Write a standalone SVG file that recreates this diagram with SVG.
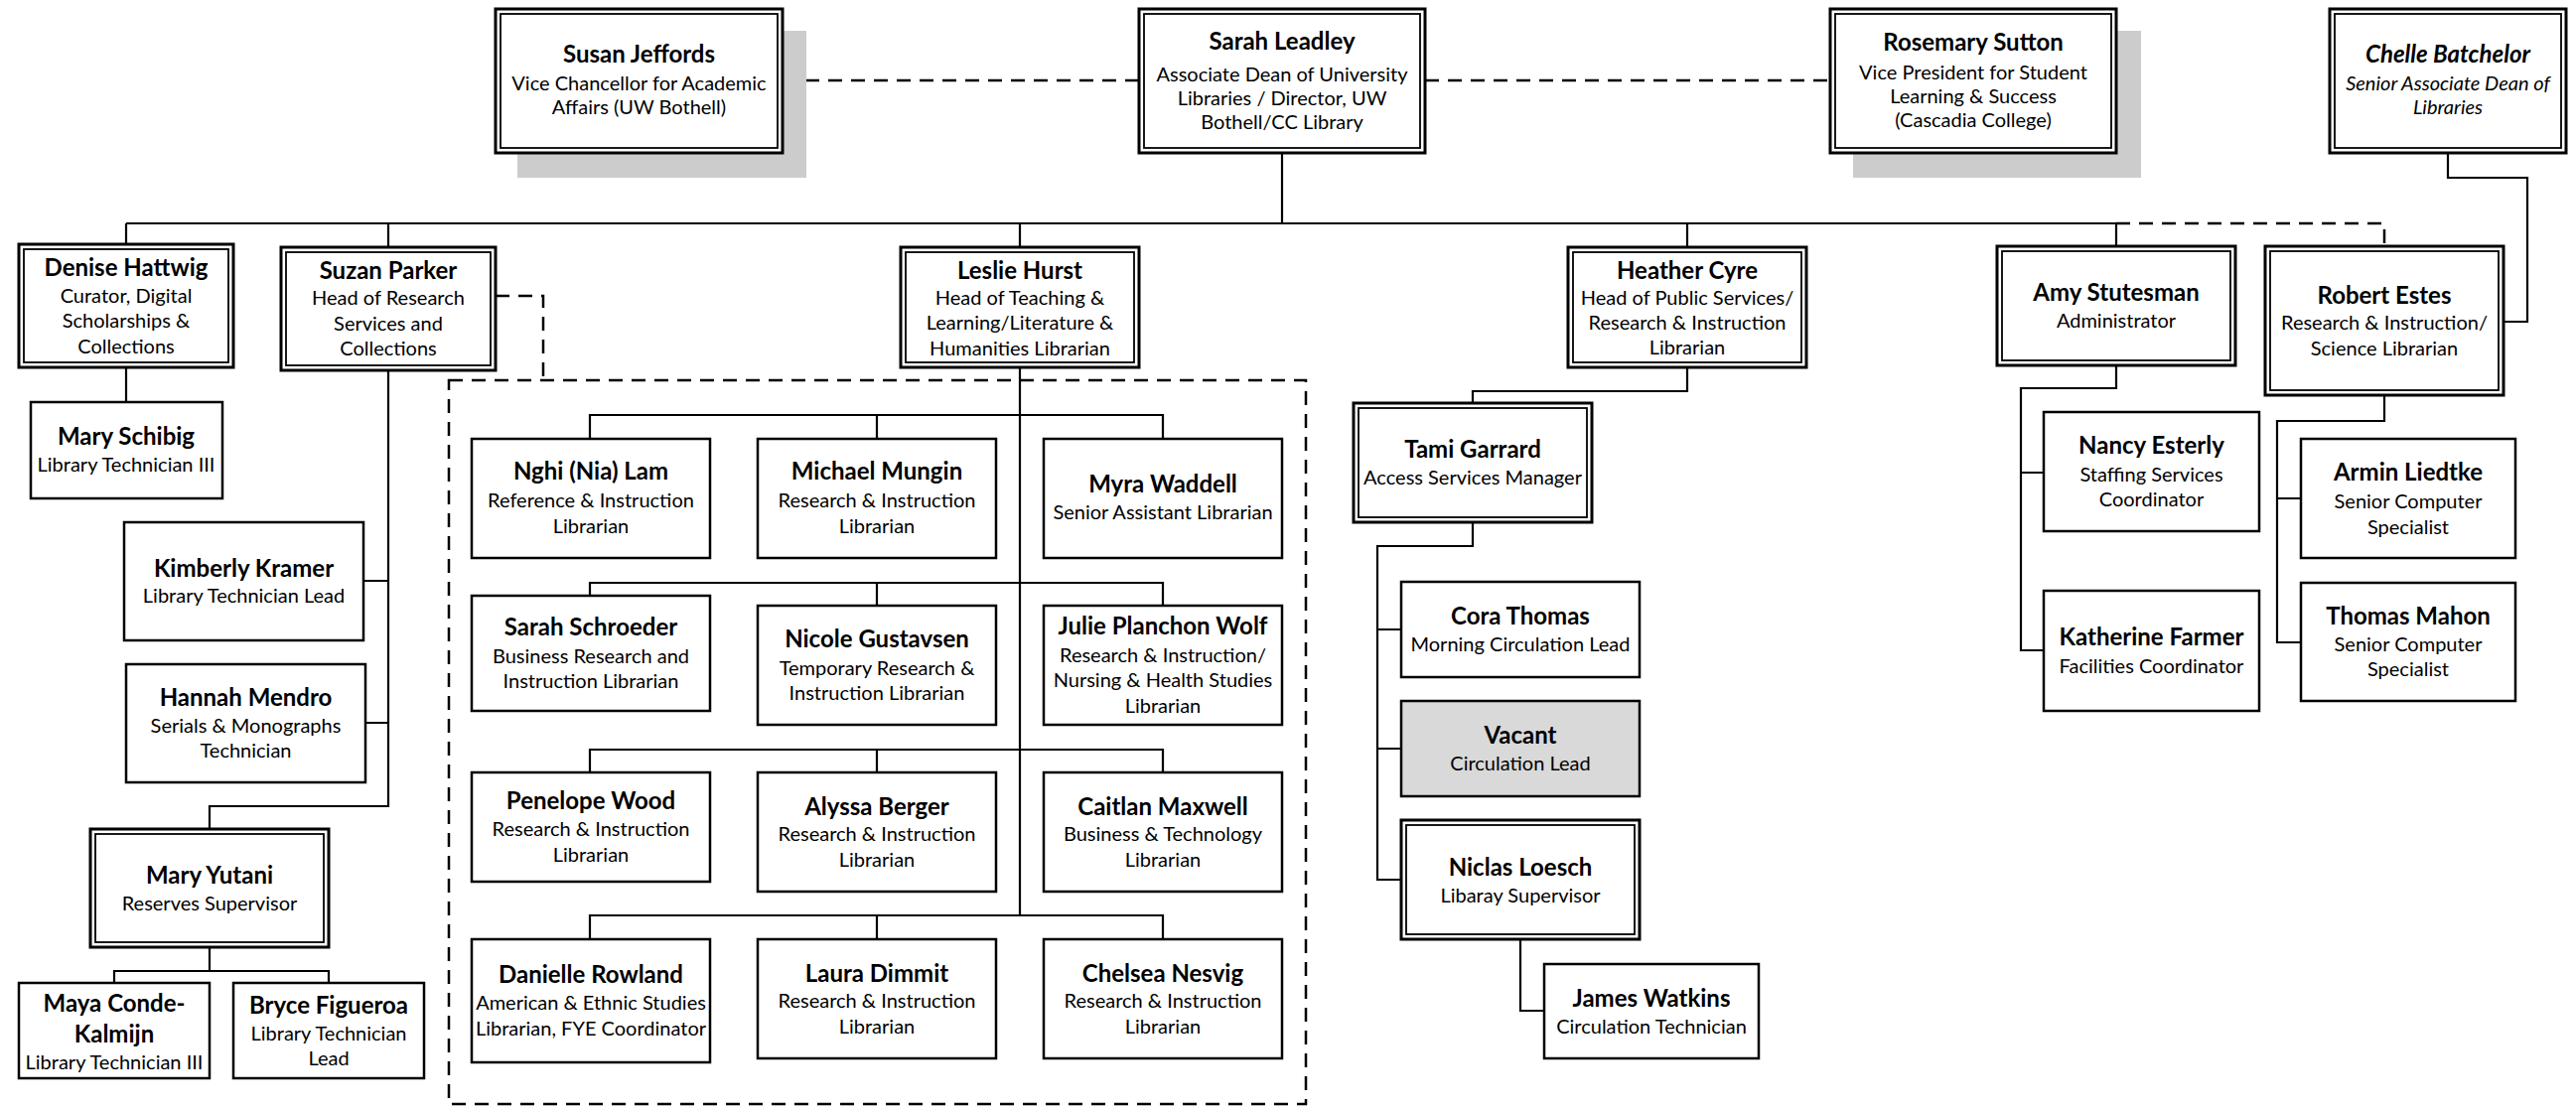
<svg xmlns="http://www.w3.org/2000/svg" width="2594" height="1119" viewBox="0 0 2594 1119">
<style>
.bg{fill:#fff}
.box{fill:#fff;stroke:#000;stroke-width:2.5}
.vac{fill:#d9d9d9;stroke:#000;stroke-width:2.5}
.dbo{fill:#fff;stroke:#000;stroke-width:3}
.dbi{fill:none;stroke:#000;stroke-width:1.8}
.shd{fill:#cccccc}
.ln{fill:none;stroke:#000;stroke-width:2.2}
.dash{fill:none;stroke:#000;stroke-width:2.5;stroke-dasharray:14 9}
text{font-family:Lato,"Liberation Sans",sans-serif;text-anchor:middle;fill:#000}
.nm{font-size:24px;font-weight:bold}
.sb{font-size:20px}
.it{font-style:italic}
</style>
<rect class="bg" x="0" y="0" width="2594" height="1119"/>

<g id="connectors">
<path class="ln" d="M1291 154V225M127 225H2131M127 225V246M391 225V249M1027 225V249M1699 225V249M2131 225V248"/>
<path class="dash" d="M788 81H1147M1435 81H1843M2131 225H2401V249M499 298H547V383"/>
<rect class="dash" x="452" y="383" width="863" height="729"/>
<path class="ln" d="M2465 154V179H2545V324H2521"/>
<path class="ln" d="M127 370V405"/>
<path class="ln" d="M391 373V812H211V835M366 585H391M368 728H391"/>
<path class="ln" d="M211 954V978M115 990V978H331V990"/>
<path class="ln" d="M1027 370V922M594 442V418H1171V442M883 418V442M594 599V587H1171V610M883 587V610M594 778V755H1171V778M883 755V778M594 946V922H1171V946M883 922V946"/>
<path class="ln" d="M1699 370V394H1483V406M1483 526V550H1387V886H1411M1387 634H1411M1387 754H1411M1531 946V1018H1555"/>
<path class="ln" d="M2131 368V391H2035V655H2058M2035 476H2058"/>
<path class="ln" d="M2401 398V424H2293V647H2317M2293 502H2317"/>
</g>

<g id="susan-jeffords">
<rect class="shd" x="521" y="31" width="291" height="148"/>
<rect class="dbo" x="499" y="9" width="289" height="145"/>
<rect class="dbi" x="504" y="14" width="279" height="135"/>
<text x="643.5" y="63" class="nm">Susan Jeffords</text>
<text x="643.5" y="91" class="sb">Vice Chancellor for Academic</text>
<text x="643.5" y="115" class="sb">Affairs (UW Bothell)</text>
</g>

<g id="sarah-leadley">
<rect class="dbo" x="1147" y="9" width="288" height="145"/>
<rect class="dbi" x="1152" y="14" width="278" height="135"/>
<text x="1291" y="50" class="nm">Sarah Leadley</text>
<text x="1291" y="82" class="sb">Associate Dean of University</text>
<text x="1291" y="106" class="sb">Libraries / Director, UW</text>
<text x="1291" y="130" class="sb">Bothell/CC Library</text>
</g>

<g id="rosemary-sutton">
<rect class="shd" x="1866" y="31" width="290" height="148"/>
<rect class="dbo" x="1843" y="9" width="288" height="145"/>
<rect class="dbi" x="1848" y="14" width="278" height="135"/>
<text x="1987" y="51" class="nm">Rosemary Sutton</text>
<text x="1987" y="80" class="sb">Vice President for Student</text>
<text x="1987" y="104" class="sb">Learning &amp; Success</text>
<text x="1987" y="128" class="sb">(Cascadia College)</text>
</g>

<g id="chelle-batchelor">
<rect class="dbo" x="2346" y="9" width="238" height="145"/>
<rect class="dbi" x="2351" y="14" width="228" height="135"/>
<text x="2465" y="63" class="nm it">Chelle Batchelor</text>
<text x="2465" y="91" class="sb it">Senior Associate Dean of</text>
<text x="2465" y="115" class="sb it">Libraries</text>
</g>

<g id="denise-hattwig">
<rect class="dbo" x="19" y="246" width="216" height="124"/>
<rect class="dbi" x="24" y="251" width="206" height="114"/>
<text x="127" y="278" class="nm">Denise Hattwig</text>
<text x="127" y="305" class="sb">Curator, Digital</text>
<text x="127" y="330" class="sb">Scholarships &amp;</text>
<text x="127" y="356" class="sb">Collections</text>
</g>

<g id="mary-schibig">
<rect class="box" x="31" y="405" width="193" height="97"/>
<text x="127" y="448" class="nm">Mary Schibig</text>
<text x="127" y="475" class="sb">Library Technician III</text>
</g>

<g id="suzan-parker">
<rect class="dbo" x="283" y="249" width="216" height="124"/>
<rect class="dbi" x="288" y="254" width="206" height="114"/>
<text x="391" y="281" class="nm">Suzan Parker</text>
<text x="391" y="307" class="sb">Head of Research</text>
<text x="391" y="333" class="sb">Services and</text>
<text x="391" y="358" class="sb">Collections</text>
</g>

<g id="kimberly-kramer">
<rect class="box" x="125" y="526" width="241" height="119"/>
<text x="245.5" y="581" class="nm">Kimberly Kramer</text>
<text x="245.5" y="607" class="sb">Library Technician Lead</text>
</g>

<g id="hannah-mendro">
<rect class="box" x="127" y="669" width="241" height="119"/>
<text x="247.5" y="711" class="nm">Hannah Mendro</text>
<text x="247.5" y="738" class="sb">Serials &amp; Monographs</text>
<text x="247.5" y="763" class="sb">Technician</text>
</g>

<g id="mary-yutani">
<rect class="dbo" x="91" y="835" width="240" height="119"/>
<rect class="dbi" x="96" y="840" width="230" height="109"/>
<text x="211" y="890" class="nm">Mary Yutani</text>
<text x="211" y="917" class="sb">Reserves Supervisor</text>
</g>

<g id="maya-conde-kalmijn">
<rect class="box" x="19" y="990" width="192" height="96"/>
<text x="115" y="1019" class="nm">Maya Conde-</text>
<text x="115" y="1050" class="nm">Kalmijn</text>
<text x="115" y="1077" class="sb">Library Technician III</text>
</g>

<g id="bryce-figueroa">
<rect class="box" x="235" y="990" width="192" height="96"/>
<text x="331" y="1021" class="nm">Bryce Figueroa</text>
<text x="331" y="1048" class="sb">Library Technician</text>
<text x="331" y="1073" class="sb">Lead</text>
</g>

<g id="leslie-hurst">
<rect class="dbo" x="907" y="249" width="240" height="121"/>
<rect class="dbi" x="912" y="254" width="230" height="111"/>
<text x="1027" y="281" class="nm">Leslie Hurst</text>
<text x="1027" y="307" class="sb">Head of Teaching &amp;</text>
<text x="1027" y="332" class="sb">Learning/Literature &amp;</text>
<text x="1027" y="358" class="sb">Humanities Librarian</text>
</g>

<g id="nghi-lam">
<rect class="box" x="475" y="442" width="240" height="120"/>
<text x="595" y="483" class="nm">Nghi (Nia) Lam</text>
<text x="595" y="511" class="sb">Reference &amp; Instruction</text>
<text x="595" y="537" class="sb">Librarian</text>
</g>

<g id="michael-mungin">
<rect class="box" x="763" y="442" width="240" height="120"/>
<text x="883" y="483" class="nm">Michael Mungin</text>
<text x="883" y="511" class="sb">Research &amp; Instruction</text>
<text x="883" y="537" class="sb">Librarian</text>
</g>

<g id="myra-waddell">
<rect class="box" x="1051" y="442" width="240" height="120"/>
<text x="1171" y="496" class="nm">Myra Waddell</text>
<text x="1171" y="523" class="sb">Senior Assistant Librarian</text>
</g>

<g id="sarah-schroeder">
<rect class="box" x="475" y="600" width="240" height="116"/>
<text x="595" y="640" class="nm">Sarah Schroeder</text>
<text x="595" y="668" class="sb">Business Research and</text>
<text x="595" y="693" class="sb">Instruction Librarian</text>
</g>

<g id="nicole-gustavsen">
<rect class="box" x="763" y="610" width="240" height="120"/>
<text x="883" y="652" class="nm">Nicole Gustavsen</text>
<text x="883" y="680" class="sb">Temporary Research &amp;</text>
<text x="883" y="705" class="sb">Instruction Librarian</text>
</g>

<g id="julie-planchon-wolf">
<rect class="box" x="1051" y="610" width="240" height="120"/>
<text x="1171" y="639" class="nm">Julie Planchon Wolf</text>
<text x="1171" y="667" class="sb">Research &amp; Instruction/</text>
<text x="1171" y="692" class="sb">Nursing &amp; Health Studies</text>
<text x="1171" y="718" class="sb">Librarian</text>
</g>

<g id="penelope-wood">
<rect class="box" x="475" y="778" width="240" height="110"/>
<text x="595" y="815" class="nm">Penelope Wood</text>
<text x="595" y="842" class="sb">Research &amp; Instruction</text>
<text x="595" y="868" class="sb">Librarian</text>
</g>

<g id="alyssa-berger">
<rect class="box" x="763" y="778" width="240" height="120"/>
<text x="883" y="821" class="nm">Alyssa Berger</text>
<text x="883" y="847" class="sb">Research &amp; Instruction</text>
<text x="883" y="873" class="sb">Librarian</text>
</g>

<g id="caitlan-maxwell">
<rect class="box" x="1051" y="778" width="240" height="120"/>
<text x="1171" y="821" class="nm">Caitlan Maxwell</text>
<text x="1171" y="847" class="sb">Business &amp; Technology</text>
<text x="1171" y="873" class="sb">Librarian</text>
</g>

<g id="danielle-rowland">
<rect class="box" x="475" y="946" width="240" height="124"/>
<text x="595" y="990" class="nm">Danielle Rowland</text>
<text x="595" y="1017" class="sb">American &amp; Ethnic Studies</text>
<text x="595" y="1043" class="sb">Librarian, FYE Coordinator</text>
</g>

<g id="laura-dimmit">
<rect class="box" x="763" y="946" width="240" height="120"/>
<text x="883" y="989" class="nm">Laura Dimmit</text>
<text x="883" y="1015" class="sb">Research &amp; Instruction</text>
<text x="883" y="1041" class="sb">Librarian</text>
</g>

<g id="chelsea-nesvig">
<rect class="box" x="1051" y="946" width="240" height="120"/>
<text x="1171" y="989" class="nm">Chelsea Nesvig</text>
<text x="1171" y="1015" class="sb">Research &amp; Instruction</text>
<text x="1171" y="1041" class="sb">Librarian</text>
</g>

<g id="heather-cyre">
<rect class="dbo" x="1579" y="249" width="240" height="121"/>
<rect class="dbi" x="1584" y="254" width="230" height="111"/>
<text x="1699" y="281" class="nm">Heather Cyre</text>
<text x="1699" y="307" class="sb">Head of Public Services/</text>
<text x="1699" y="332" class="sb">Research &amp; Instruction</text>
<text x="1699" y="357" class="sb">Librarian</text>
</g>

<g id="tami-garrard">
<rect class="dbo" x="1363" y="406" width="240" height="120"/>
<rect class="dbi" x="1368" y="411" width="230" height="110"/>
<text x="1483" y="461" class="nm">Tami Garrard</text>
<text x="1483" y="488" class="sb">Access Services Manager</text>
</g>

<g id="cora-thomas">
<rect class="box" x="1411" y="586" width="240" height="96"/>
<text x="1531" y="629" class="nm">Cora Thomas</text>
<text x="1531" y="656" class="sb">Morning Circulation Lead</text>
</g>

<g id="vacant">
<rect class="vac" x="1411" y="706" width="240" height="96"/>
<text x="1531" y="749" class="nm">Vacant</text>
<text x="1531" y="776" class="sb">Circulation Lead</text>
</g>

<g id="niclas-loesch">
<rect class="dbo" x="1411" y="826" width="240" height="120"/>
<rect class="dbi" x="1416" y="831" width="230" height="110"/>
<text x="1531" y="882" class="nm">Niclas Loesch</text>
<text x="1531" y="909" class="sb">Libaray Supervisor</text>
</g>

<g id="james-watkins">
<rect class="box" x="1555" y="971" width="216" height="95"/>
<text x="1663" y="1014" class="nm">James Watkins</text>
<text x="1663" y="1041" class="sb">Circulation Technician</text>
</g>

<g id="amy-stutesman">
<rect class="dbo" x="2011" y="248" width="240" height="120"/>
<rect class="dbi" x="2016" y="253" width="230" height="110"/>
<text x="2131" y="303" class="nm">Amy Stutesman</text>
<text x="2131" y="330" class="sb">Administrator</text>
</g>

<g id="robert-estes">
<rect class="dbo" x="2281" y="248" width="240" height="150"/>
<rect class="dbi" x="2286" y="253" width="230" height="140"/>
<text x="2401" y="306" class="nm">Robert Estes</text>
<text x="2401" y="332" class="sb">Research &amp; Instruction/</text>
<text x="2401" y="358" class="sb">Science Librarian</text>
</g>

<g id="nancy-esterly">
<rect class="box" x="2058" y="415" width="217" height="120"/>
<text x="2166.5" y="457" class="nm">Nancy Esterly</text>
<text x="2166.5" y="485" class="sb">Staffing Services</text>
<text x="2166.5" y="510" class="sb">Coordinator</text>
</g>

<g id="katherine-farmer">
<rect class="box" x="2058" y="595" width="217" height="121"/>
<text x="2166.5" y="650" class="nm">Katherine Farmer</text>
<text x="2166.5" y="678" class="sb">Facilities Coordinator</text>
</g>

<g id="armin-liedtke">
<rect class="box" x="2317" y="442" width="216" height="120"/>
<text x="2425" y="484" class="nm">Armin Liedtke</text>
<text x="2425" y="512" class="sb">Senior Computer</text>
<text x="2425" y="538" class="sb">Specialist</text>
</g>

<g id="thomas-mahon">
<rect class="box" x="2317" y="587" width="216" height="119"/>
<text x="2425" y="629" class="nm">Thomas Mahon</text>
<text x="2425" y="656" class="sb">Senior Computer</text>
<text x="2425" y="681" class="sb">Specialist</text>
</g>
</svg>
